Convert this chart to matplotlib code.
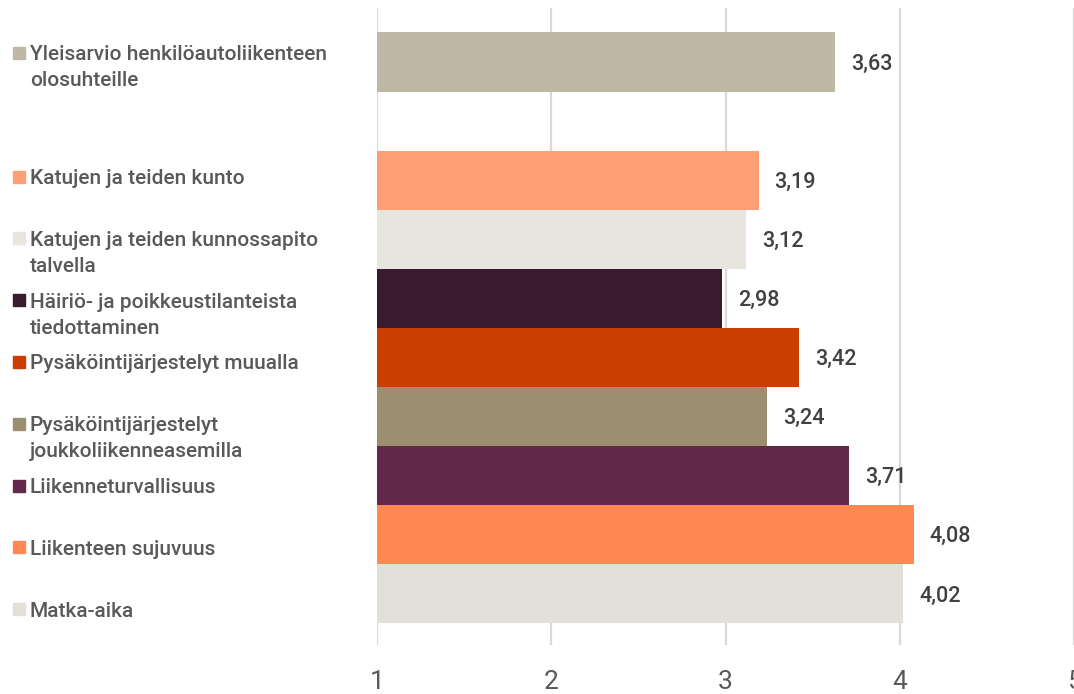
import matplotlib.pyplot as plt
from matplotlib.patches import Rectangle

labels = [
    "Yleisarvio henkilöautoliikenteen\nolosuhteille",
    "Katujen ja teiden kunto",
    "Katujen ja teiden kunnossapito\ntalvella",
    "Häiriö- ja poikkeustilanteista\ntiedottaminen",
    "Pysäköintijärjestelyt muualla",
    "Pysäköintijärjestelyt\njoukkoliikenneasemilla",
    "Liikenneturvallisuus",
    "Liikenteen sujuvuus",
    "Matka-aika",
]
values = [3.63, 3.19, 3.12, 2.98, 3.42, 3.24, 3.71, 4.08, 4.02]
colors = ["#BFB8A5", "#FF9F75", "#E8E5DE", "#3A1A2E", "#CC3D00",
          "#9A9070", "#62294A", "#FF8853", "#E2E0D9"]
# slot of each bar (slot 1 is left empty between the overall rating and the rest)
slots = [0, 2, 3, 4, 5, 6, 7, 8, 9]
xticks = [1, 2, 3, 4, 5]

plt.rcParams['font.family'] = ['Roboto', 'DejaVu Sans']

W, H = 1074, 694
fig = plt.figure(figsize=(W / 100, H / 100), dpi=100)
ax = fig.add_axes([377 / W, 1 - 645 / H, 1 - 377 / W, (645 - 8) / H])

ax.barh(slots, [v - 1 for v in values], left=1, height=1.0, color=colors, zorder=2)

for s, v in zip(slots, values):
    ax.annotate(f"{v:.2f}".replace('.', ','), xy=(v, s), xytext=(11.5, -1.5),
                textcoords='offset points', va='center', ha='left',
                fontsize=15.5, color='#404040', fontweight='medium')

ax.set_xlim(1, 5)
ax.set_ylim(9.865, -0.914)
ax.set_xticks(xticks)
ax.set_xticklabels([str(t) for t in xticks])
ax.set_yticks([])
ax.tick_params(axis='x', length=0, pad=18, labelsize=19, labelcolor='#595959')
ax.grid(axis='x', color='#D9D9D9', linewidth=1.6, zorder=0)
for sp in ax.spines.values():
    sp.set_visible(False)

# legend on the left
for s, lab, c in zip(slots, labels, colors):
    yc = 53 + 61.8 * s
    fig.patches.append(Rectangle((13 / W, 1 - (yc + 6) / H), 12 / W, 12 / H,
                                 transform=fig.transFigure, color=c, figure=fig))
    for i, line in enumerate(lab.split("\n")):
        fig.text(30 / W, 1 - (yc + 7.5 + 26 * i) / H, line, va='baseline', ha='left',
                 fontsize=15, color='#595959', fontweight='medium')

fig.savefig("out.png", dpi=100)
